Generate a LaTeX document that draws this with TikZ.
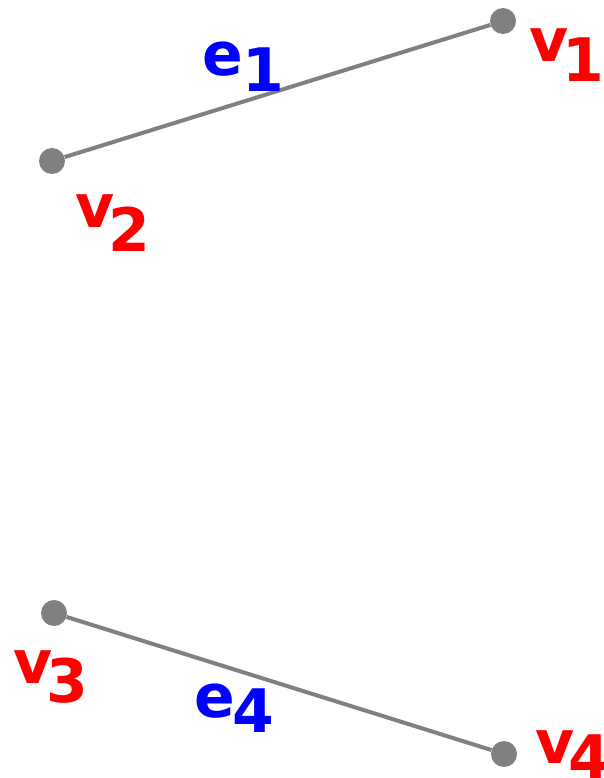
\documentclass[tikz,border=0pt]{standalone}
\usepackage{fontspec}
\setsansfont{DejaVu Sans}
\newcommand{\lowsub}[3][-6pt]{\kern#1\raisebox{-#2}{#3}}
\begin{document}
\begin{tikzpicture}[
  x=1pt, y=-1pt,
  vtx/.style={
    circle,
    fill=gray,
    inner sep=0pt,
    minimum size=26pt
  },
  edge/.style={
    draw=gray,
    line width=4pt
  },
  vlabel/.style={
    text=red,
    inner sep=0pt,
    anchor=base west,
    font=\fontsize{60}{60}\selectfont\sffamily\bfseries
  },
  elabel/.style={
    text=blue,
    inner sep=0pt,
    anchor=base west,
    font=\fontsize{60}{60}\selectfont\sffamily\bfseries
  }
]
  \useasboundingbox (0,0) rectangle (604,778);
  \node[vtx] (v1) at (503,21) {};
  \node[vtx] (v2) at (52,161) {};
  \node[vtx] (v3) at (54,613) {};
  \node[vtx] (v4) at (504,754) {};
  \draw[edge] (v2) -- (v1);
  \draw[edge] (v3) -- (v4);
  \node[vlabel] (lv1) at (529,62) {v\lowsub{20pt}{1}};
  \node[vlabel] (lv2) at (75,227) {v\lowsub{24pt}{2}};
  \node[vlabel] (lv3) at (13,683) {v\lowsub{19pt}{3}};
  \node[vlabel] (lv4) at (535,763) {v\lowsub{15pt}{4}};
  \node[elabel] (le1) at (202,76) {e\lowsub[0pt]{16pt}{1}};
  \node[elabel] (le4) at (194,717) {e\lowsub[-2pt]{15pt}{4}};
\end{tikzpicture}
\end{document}
